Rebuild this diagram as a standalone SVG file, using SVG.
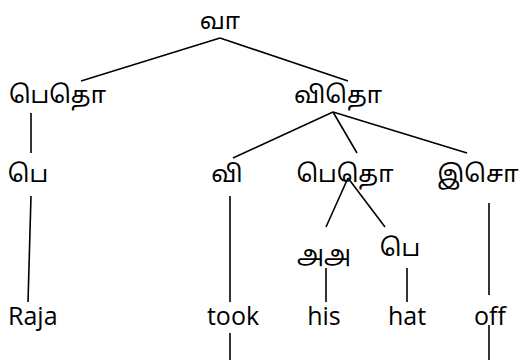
<svg xmlns="http://www.w3.org/2000/svg" width="522" height="360" viewBox="0 0 522 360">
<style>
.ta{font-family:"Noto Sans Tamil","Noto Sans","Latha","Lohit Tamil",sans-serif;font-size:24px;fill:#000;text-anchor:middle}
.en{font-family:"Open Sans","Liberation Sans",sans-serif;font-size:25px;fill:#000;text-anchor:middle}
.ln line{stroke:#000;stroke-width:1.6;fill:none}
</style>
<rect width="522" height="360" fill="#fff"/>
<g id="connectors" class="ln">
<line x1="220" y1="38" x2="81" y2="81"/>
<line x1="220" y1="38" x2="348" y2="81"/>
<line x1="31" y1="113" x2="31" y2="153"/>
<line x1="333" y1="112" x2="233" y2="158"/>
<line x1="333" y1="112" x2="357" y2="153"/>
<line x1="333" y1="112" x2="467" y2="153"/>
<line x1="31" y1="196" x2="28" y2="302"/>
<line x1="230" y1="196" x2="230" y2="302"/>
<line x1="348" y1="178" x2="326" y2="227"/>
<line x1="348" y1="178" x2="385" y2="227"/>
<line x1="489" y1="203" x2="489" y2="295"/>
<line x1="326" y1="268" x2="326" y2="302"/>
<line x1="407" y1="268" x2="407" y2="302"/>
<line x1="230" y1="333" x2="230" y2="360"/>
<line x1="489" y1="325" x2="489" y2="360"/>
</g>
<g id="n-va"><text class="ta" x="220" y="29">வா</text></g>
<g id="n-pethoL"><text class="ta" x="57.5" y="103">பெதொ</text></g>
<g id="n-vitho"><text class="ta" x="338" y="103">விதொ</text></g>
<g id="n-peL"><text class="ta" x="28" y="182">பெ</text></g>
<g id="n-vi"><text class="ta" x="227" y="182">வி</text></g>
<g id="n-pethoM"><text class="ta" x="345" y="182">பெதொ</text></g>
<g id="n-iso"><text class="ta" x="478" y="182">இசொ</text></g>
<g id="n-aa"><text class="ta" x="324" y="262">அஅ</text></g>
<g id="n-peM"><text class="ta" x="400" y="256">பெ</text></g>
<g id="w-raja"><text class="en" x="8" y="325" style="text-anchor:start">Raja</text></g>
<g id="w-took"><text class="en" x="233" y="325">took</text></g>
<g id="w-his"><text class="en" x="324" y="325">his</text></g>
<g id="w-hat"><text class="en" x="407" y="325">hat</text></g>
<g id="w-off"><text class="en" x="490" y="325">off</text></g>
</svg>
